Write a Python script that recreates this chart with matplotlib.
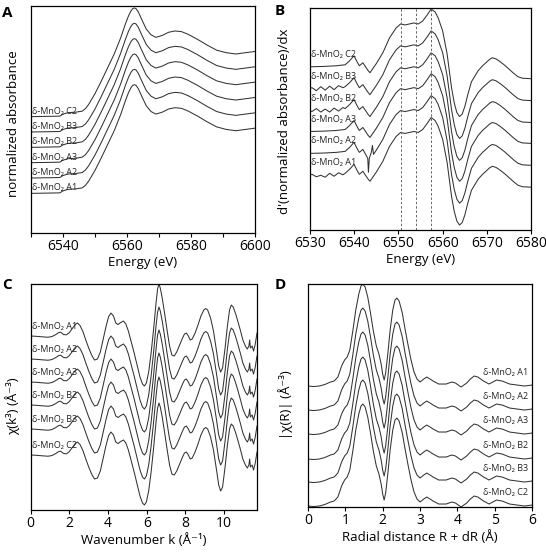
import matplotlib
matplotlib.use("Agg")
import matplotlib.pyplot as plt

plt.rcParams["font.family"] = ["Open Sans", "DejaVu Sans"]

samples = ["A1", "A2", "A3", "B2", "B3", "C2"]

# panel A, normalized XANES (one shape, stacked)
xanes_energy = [6530, 6536, 6539, 6540, 6541.5, 6544, 6546, 6547, 6548, 6550, 6552, 6554,
                6556, 6558, 6559.5, 6560.5, 6561.2, 6561.8, 6562.3, 6562.8, 6563.5, 6564.5,
                6566, 6567.5, 6569, 6571, 6573, 6575, 6577, 6579, 6582, 6585, 6588, 6591,
                6594, 6597, 6600]
xanes_mu = [0, 0.005, 0.008, 0.039, 0.062, 0.07, 0.086, 0.125, 0.19, 0.36, 0.56, 0.77,
            0.98, 1.23, 1.45, 1.58, 1.65, 1.69, 1.70, 1.69, 1.64, 1.53, 1.37, 1.28,
            1.24, 1.27, 1.32, 1.34, 1.33, 1.29, 1.21, 1.12, 1.04, 1.00, 0.98, 1.00, 1.02]
xanes_offset = [0, 0.24, 0.48, 0.72, 0.96, 1.2]

# panel B, first derivative
deriv_energy = [6530, 6533, 6536, 6538, 6539, 6540, 6540.8, 6541.2, 6542, 6543.2, 6543.6,
                6545, 6546.5, 6548, 6549.5, 6550.5, 6551.5, 6552.5, 6553.5, 6554.5, 6555.5,
                6556.5, 6557.4, 6558.3, 6559, 6560, 6561, 6562, 6562.6, 6563.2, 6563.8,
                6564.4, 6565, 6565.7, 6566.5, 6568, 6569, 6570, 6570.6, 6571.2, 6572,
                6573, 6574, 6575, 6576, 6577, 6578, 6580]
deriv_value = [0, 0.006, 0.02, 0.04, 0.12, 0.22, 0.08, 0.02, 0.08, -0.08, -0.12,
               0.06, 0.28, 0.58, 0.78, 0.86, 0.84, 0.86, 0.88, 0.86, 0.92,
               1.04, 1.16, 1.10, 0.98, 0.72, 0.26, -0.42, -0.72, -0.92, -1.0,
               -0.95, -0.80, -0.55, -0.30, -0.08, 0.02, 0.10, 0.15, 0.18, 0.16,
               0.10, 0.03, -0.05, -0.13, -0.20, -0.23, -0.24]
deriv_offset = [0, 0.44, 0.88, 1.30, 1.74, 2.18]
# sample specific stretches that replace the shared trace
deriv_extra = {
    "A2": ([6543.1, 6543.25, 6543.45, 6543.9, 6544.15, 6544.4],
           [-0.10, -0.38, -0.10, 0.02, 0.16, -0.02]),
    "B3": ([6530.5, 6531.5, 6532.5, 6533.5, 6534.5, 6535.5, 6536.5, 6537.5],
           [0.02, -0.04, 0.04, -0.03, 0.05, -0.02, 0.06, 0.02]),
    "B2": ([6530.5, 6531.5, 6532.5, 6533.5, 6534.5, 6535.5, 6536.5, 6537.5],
           [-0.02, 0.04, -0.03, 0.03, -0.03, 0.05, -0.01, 0.06]),
    "A1": ([6530.5, 6531.5, 6532.5, 6533.5, 6534.5, 6535.5, 6536.5, 6537.5],
           [0.02, -0.03, 0.0, -0.04, 0.04, -0.02, 0.05, 0.01]),
}
dashed_energy = [6550.5, 6553.9, 6557.4]

# panel C, k3-weighted EXAFS
exafs_k = [0.0, 0.3, 0.6, 0.9, 1.1, 1.3, 1.45, 1.55, 1.7, 1.85, 2.0, 2.15, 2.3, 2.42, 2.55,
           2.7, 2.85, 3.0, 3.15, 3.3, 3.45, 3.6, 3.75, 3.9, 4.03, 4.15, 4.28, 4.4, 4.52,
           4.65, 4.8, 4.92, 5.05, 5.2, 5.35, 5.5, 5.65, 5.78, 5.88, 5.98, 6.1, 6.22, 6.35,
           6.48, 6.56, 6.63, 6.7, 6.8, 6.92, 7.05, 7.18, 7.3, 7.42, 7.55, 7.7, 7.85, 7.95,
           8.05, 8.15, 8.25, 8.35, 8.5, 8.65, 8.8, 8.95, 9.05, 9.15, 9.3, 9.45, 9.6, 9.72,
           9.82, 9.92, 10.05, 10.17, 10.28, 10.37, 10.47, 10.6, 10.72, 10.85, 10.97, 11.1,
           11.2, 11.28, 11.32, 11.36, 11.45, 11.52, 11.6, 11.7]
exafs_chi = [0, -0.03, -0.08, -0.12, -0.05, 0.15, 0.35, 0.38, 0.15, 0.12, 0.35, 0.75, 1.15,
             1.3, 1.05, 0.45, -0.4, -1.2, -1.9, -2.4, -2.3, -1.6, -0.3, 1.0, 1.95, 2.3,
             2.0, 1.3, 1.15, 1.35, 1.5, 1.2, 0.5, -0.6, -1.7, -2.9, -4.1, -4.8, -5.0,
             -4.7, -3.6, -1.8, 0.6, 3.3, 4.7, 5.2, 4.8, 3.8, 2.3, 0.6, -1.0, -1.9, -2.0,
             -1.6, -0.9, -0.2, 0.2, 0.3, 0.0, -0.4, -0.3, 0.3, 1.1, 2.0, 2.6, 2.75, 2.6,
             1.8, 0.5, -1.4, -3.0, -3.6, -3.2, -1.2, 1.0, 2.6, 3.1, 2.9, 2.2, 1.4, 0.5,
             -0.4, -1.0, -1.3, -1.0, -0.4, -1.2, -1.0, -1.5, -0.9, 0.3]
exafs_offset = [0, -2.3, -4.6, -6.9, -9.3, -11.9]

# panel D, Fourier transform magnitude
ft_r = [0, 0.15, 0.3, 0.45, 0.6, 0.7, 0.8, 0.9, 0.98, 1.05, 1.12, 1.2, 1.28, 1.36, 1.42,
        1.47, 1.53, 1.6, 1.67, 1.75, 1.83, 1.9, 1.96, 2.0, 2.04, 2.08, 2.14, 2.2, 2.27,
        2.33, 2.38, 2.44, 2.52, 2.6, 2.68, 2.76, 2.84, 2.92, 3.0, 3.1, 3.18, 3.27, 3.35,
        3.5, 3.7, 3.85, 3.95, 4.1, 4.25, 4.35, 4.45, 4.55, 4.7, 4.85, 4.95, 5.05, 5.2,
        5.4, 5.6, 5.8, 6.0]
ft_mag = [0, -0.005, 0.0, 0.015, 0.04, 0.05, 0.09, 0.20, 0.26, 0.29, 0.36, 0.55, 0.76,
          0.92, 1.0, 1.02, 0.99, 0.89, 0.74, 0.55, 0.40, 0.32, 0.22, 0.12, 0.06, 0.13,
          0.33, 0.56, 0.76, 0.86, 0.88, 0.85, 0.74, 0.57, 0.41, 0.26, 0.14, 0.07, 0.04,
          0.07, 0.09, 0.07, 0.05, 0.02, 0.02, 0.04, 0.03, -0.01, 0.03, 0.07, 0.10, 0.09,
          0.05, 0.02, 0.04, 0.06, 0.05, 0.02, 0.01, 0.0, 0.01]
ft_offset = [0, -0.24, -0.48, -0.73, -0.96, -1.20]

line_kw = dict(color="#333333", lw=0.75)
label_kw = dict(fontsize=6.5, color="#222222")


def style(ax):
    ax.set_yticks([])
    ax.tick_params(axis="x", which="both", direction="out", length=3, width=0.8,
                   pad=1.5, labelsize=10)
    for s in ax.spines.values():
        s.set_linewidth(0.9)


fig = plt.figure(figsize=(5.46, 5.54), dpi=100)
axA = fig.add_axes([0.0568, 0.5794, 0.4103, 0.4097])
axB = fig.add_axes([0.5672, 0.5848, 0.4059, 0.4007])
axC = fig.add_axes([0.0562, 0.0794, 0.4145, 0.4079])
axD = fig.add_axes([0.5641, 0.0848, 0.4103, 0.4025])

# A
for name, off in zip(samples, xanes_offset):
    axA.plot(xanes_energy, [v + off for v in xanes_mu], **line_kw)
    axA.text(6530.3, off + 0.045, "δ-MnO₂ " + name, va="baseline", ha="left", **label_kw)
axA.set_xlim(6530, 6600)
axA.set_ylim(-0.62, 2.93)
axA.set_xticks([6540, 6560, 6580, 6600])
axA.set_xticks([6530, 6550, 6570, 6590], minor=True)
axA.set_xlabel("Energy (eV)", fontsize=9.5, labelpad=1)
axA.set_ylabel("normalized absorbance", fontsize=9.5)
axA.yaxis.set_label_coords(-0.05, 0.48)
style(axA)

# B
for name, off in zip(samples, deriv_offset):
    e, d = deriv_energy, deriv_value
    if name in deriv_extra:
        ex, ey = deriv_extra[name]
        pts = [(x, y) for x, y in zip(deriv_energy, deriv_value) if x < min(ex) or x > max(ex)]
        pts += list(zip(ex, ey))
        pts.sort()
        e = [p[0] for p in pts]
        d = [p[1] for p in pts]
    axB.plot(e, [v + off for v in d], **line_kw)
    axB.text(6530.3, off + 0.2, "δ-MnO₂ " + name, va="baseline", ha="left", **label_kw)
for e in dashed_energy:
    axB.axvline(e, color="#666666", lw=0.7, ls=(0, (2.5, 2)))
axB.set_xlim(6530, 6580)
axB.set_ylim(-1.1, 3.36)
axB.set_xticks(range(6530, 6581, 10))
axB.set_xlabel("Energy (eV)", fontsize=9.5, labelpad=1)
axB.set_ylabel("d'(normalized absorbance)/dx", fontsize=9.5)
axB.yaxis.set_label_coords(-0.085, 0.49)
style(axB)

# C
for name, off in zip(samples, exafs_offset):
    axC.plot(exafs_k, [v + off for v in exafs_chi], **line_kw)
    axC.text(0.05, off + 0.7, "δ-MnO₂ " + name, va="baseline", ha="left", **label_kw)
axC.set_xlim(0, 11.7)
axC.set_ylim(-17.4, 5.2)
axC.set_xticks(range(0, 11, 2))
axC.set_xlabel("Wavenumber k (Å⁻¹)", fontsize=9.5, labelpad=1)
axC.set_ylabel("χ(k³) (Å⁻³)", fontsize=9.5)
axC.yaxis.set_label_coords(-0.047, 0.46)
style(axC)

# D
for name, off in zip(samples, ft_offset):
    axD.plot(ft_r, [v + off for v in ft_mag], **line_kw)
    axD.text(5.9, off + 0.11, "δ-MnO₂ " + name, va="baseline", ha="right", **label_kw)
axD.set_xlim(0, 6)
axD.set_ylim(-1.21, 1.02)
axD.set_xticks(range(0, 7))
axD.set_xlabel("Radial distance R + dR (Å)", fontsize=9.5, labelpad=1)
axD.set_ylabel("|χ(R)| (Å⁻³)", fontsize=9.5)
axD.yaxis.set_label_coords(-0.067, 0.46)
style(axD)

for x, y, letter in [(0.003, 0.99, "A"), (0.503, 0.992, "B"), (0.003, 0.499, "C"), (0.503, 0.499, "D")]:
    fig.text(x, y, letter, fontsize=11, fontweight="bold", va="top", ha="left")

fig.savefig("out.png", dpi=100)
